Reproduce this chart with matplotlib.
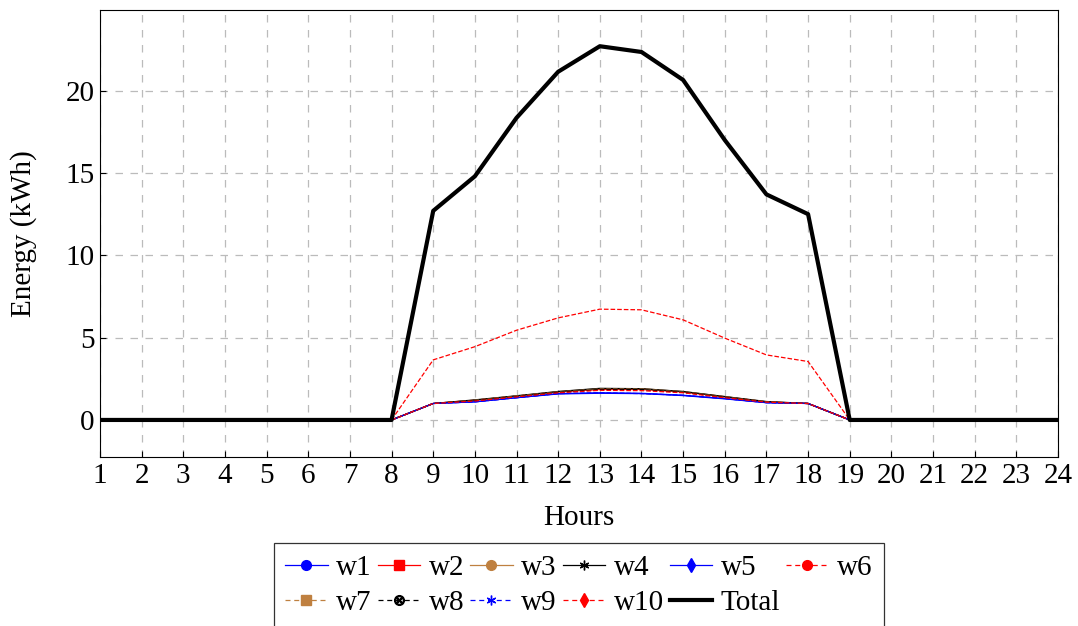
import matplotlib.pyplot as plt
from matplotlib.lines import Line2D

plt.rcParams['font.family'] = ['Liberation Serif', 'DejaVu Serif']
plt.rcParams['mathtext.fontset'] = 'stix'

hours = list(range(1, 25))

# hourly energy per worker (kWh), zero outside 9..18
z8 = [0] * 8
z6 = [0] * 6
w1 = z8 + [1.0, 1.10, 1.35, 1.60, 1.65, 1.62, 1.50, 1.30, 1.05, 1.0] + z6
w2 = z8 + [1.0, 1.20, 1.45, 1.70, 1.85, 1.85, 1.70, 1.40, 1.10, 1.0] + z6
w3 = z8 + [1.0, 1.20, 1.45, 1.72, 1.90, 1.90, 1.72, 1.42, 1.10, 1.0] + z6
w4 = z8 + [1.0, 1.22, 1.47, 1.73, 1.92, 1.90, 1.73, 1.42, 1.12, 1.0] + z6
w5 = z8 + [1.0, 1.10, 1.35, 1.58, 1.62, 1.60, 1.48, 1.28, 1.05, 1.0] + z6
w6 = z8 + [3.65, 4.45, 5.45, 6.20, 6.73, 6.69, 6.08, 4.97, 3.95, 3.55] + z6
w7 = z8 + [1.0, 1.20, 1.45, 1.70, 1.88, 1.88, 1.70, 1.40, 1.10, 1.0] + z6
w8 = z8 + [1.0, 1.18, 1.42, 1.68, 1.85, 1.85, 1.68, 1.38, 1.08, 1.0] + z6
w9 = z8 + [1.0, 1.10, 1.35, 1.60, 1.65, 1.60, 1.50, 1.30, 1.05, 1.0] + z6
w10 = z8 + [1.0, 1.15, 1.40, 1.65, 1.80, 1.78, 1.65, 1.35, 1.08, 1.0] + z6
total = z8 + [12.7, 14.8, 18.35, 21.15, 22.7, 22.35, 20.65, 17.0, 13.7, 12.5] + z6

brown = (0.75, 0.5, 0.25)
series = [
    ("w1", w1, 'blue', '-', 'o', 'blue'),
    ("w2", w2, 'red', '-', 's', 'red'),
    ("w3", w3, brown, '-', 'o', brown),
    ("w4", w4, 'black', '-', (6, 2, 0), 'black'),
    ("w5", w5, 'blue', '-', 'd', 'blue'),
    ("w6", w6, 'red', '--', 'o', 'red'),
    ("w7", w7, brown, '--', 's', brown),
    ("w8", w8, 'black', '--', '$\\otimes$', 'gray'),
    ("w9", w9, 'blue', '--', (6, 2, 0), 'blue'),
    ("w10", w10, 'red', '--', 'd', 'red'),
]

fig = plt.figure(figsize=(10.78, 6.26), dpi=100)
ax = fig.add_axes([100 / 1078, 1 - 457 / 626, 958 / 1078, 447 / 626])

handles = []
for name, vals, col, ls, mk, fc in series:
    ax.plot(hours, vals, color=col, linestyle=ls, linewidth=0.9, zorder=3)
    handles.append(Line2D([], [], color=col, linestyle=ls, linewidth=0.9,
                          dashes=(4, 3) if ls == '--' else (None, None),
                          marker=mk, markersize=7, markerfacecolor=fc,
                          markeredgecolor=col, label=name))
ax.plot(hours, total, color='black', linewidth=3, zorder=4)
handles.append(Line2D([], [], color='black', linewidth=3, label='Total'))

ax.set_xlim(1, 24)
ax.set_ylim(-2.25, 24.9)
ax.set_xticks(hours)
ax.set_yticks([0, 5, 10, 15, 20])
ax.grid(True, color='#bbbbbb', linestyle=(0, (6, 6)), linewidth=0.9)
ax.tick_params(direction='in', labelsize=21, length=4, pad=4)
ax.set_xlabel('Hours', fontsize=21, labelpad=12)
ax.set_ylabel('Energy (kWh)', fontsize=21, labelpad=20)

# legend fills column-wise, so interleave the two rows
order = [0, 6, 1, 7, 2, 8, 3, 9, 4, 10, 5]
leg = fig.legend(handles=[handles[i] for i in order], ncol=6, loc='upper center',
                 bbox_to_anchor=(579 / 1078, 1 - 543 / 626), fontsize=21,
                 frameon=True, fancybox=False, edgecolor='black',
                 handlelength=1.45, handletextpad=0.3, columnspacing=0.2,
                 labelspacing=0.3, borderpad=0.4, borderaxespad=0)
leg.get_frame().set_linewidth(0.9)

fig.savefig('out.png', dpi=100)
